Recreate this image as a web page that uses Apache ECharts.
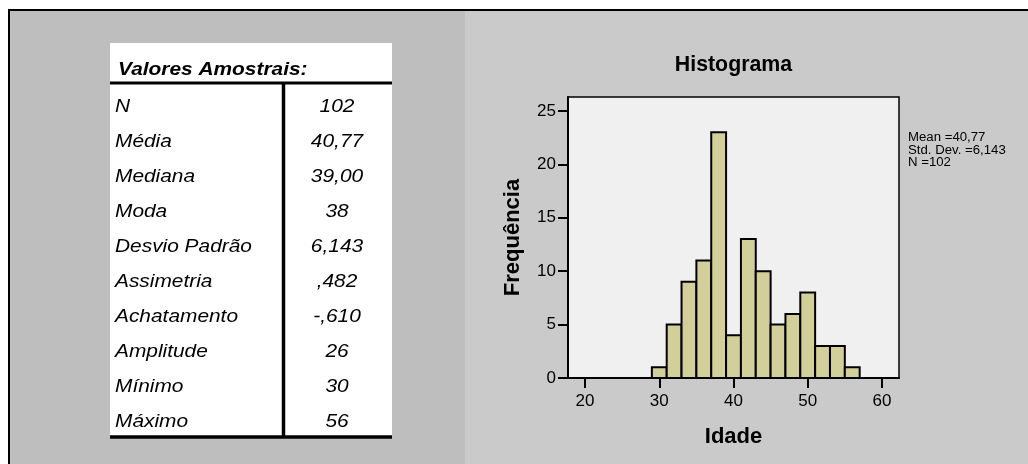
<!DOCTYPE html>
<html>
<head>
<meta charset="utf-8">
<script src="https://cdn.jsdelivr.net/npm/echarts@6/dist/echarts.min.js"></script>
<style>html,body{margin:0;padding:0;background:#fff}#c{width:1028px;height:464px}</style>
</head>
<body>
<div id="c"></div>
<script>
// ---- data ----
const binCenters = [30, 32, 34, 36, 38, 40, 42, 44, 46, 48, 50, 52, 54, 56];
const counts = [1, 5, 9, 11, 23, 4, 13, 10, 5, 6, 8, 3, 3, 1];
const binWidth = 2;
const xTicks = [20, 30, 40, 50, 60];
const yTicks = [0, 5, 10, 15, 20, 25];
const tableTitle = 'Valores Amostrais:';
const tableLabels = ['N', 'Média', 'Mediana', 'Moda', 'Desvio Padrão', 'Assimetria', 'Achatamento', 'Amplitude', 'Mínimo', 'Máximo'];
const tableValues = ['102', '40,77', '39,00', '38', '6,143', ',482', '-,610', '26', '30', '56'];
const statsLines = ['Mean =40,77', 'Std. Dev. =6,143', 'N =102'];
const chartTitle = 'Histograma';
const xName = 'Idade';
const yName = 'Frequência';

const chart = echarts.init(document.getElementById('c'), null, {renderer: 'canvas'});
const FONT = 'Liberation Sans, Arial, sans-serif';

const graphics = [
  // outer frame and panels
  {type: 'rect', z: -10, shape: {x: 9, y: 10, width: 1030, height: 470}, style: {fill: '#bebebe', stroke: '#000', lineWidth: 2}},
  {type: 'rect', z: -9, shape: {x: 465, y: 11, width: 570, height: 460}, style: {fill: '#cacaca'}},
  // table box
  {type: 'rect', z: -5, shape: {x: 110, y: 43, width: 282, height: 394}, style: {fill: '#ffffff'}},
  {type: 'line', shape: {x1: 110, y1: 83, x2: 392, y2: 83}, style: {stroke: '#000', lineWidth: 3}},
  {type: 'line', shape: {x1: 283.5, y1: 83, x2: 283.5, y2: 438}, style: {stroke: '#000', lineWidth: 3.5}},
  {type: 'line', shape: {x1: 110, y1: 437, x2: 392, y2: 437}, style: {stroke: '#000', lineWidth: 3.5}},
  {type: 'text', x: 118, y: 70, scaleX: 1.16, style: {text: tableTitle, fill: '#000', font: 'italic bold 18px ' + FONT, textAlign: 'left', textVerticalAlign: 'middle'}},
  // title
  {type: 'text', x: 733.5, y: 65, scaleX: 0.97, style: {text: chartTitle, fill: '#000', font: 'bold 22px ' + FONT, textAlign: 'center', textVerticalAlign: 'middle'}},
  // stats box text
  {type: 'text', x: 908, y: 132, scaleX: 1.1, style: {text: statsLines.join('\n'), fill: '#000', font: '12px ' + FONT, lineHeight: 12.3, textAlign: 'left', textVerticalAlign: 'top'}}
];
tableLabels.forEach((lab, i) => {
  const y = 107 + 35 * i;
  graphics.push({type: 'text', x: 115, y: y, scaleX: 1.16, style: {text: lab, fill: '#000', font: 'italic 18px ' + FONT, textAlign: 'left', textVerticalAlign: 'middle'}});
  graphics.push({type: 'text', x: 337, y: y, scaleX: 1.16, style: {text: tableValues[i], fill: '#000', font: 'italic 18px ' + FONT, textAlign: 'center', textVerticalAlign: 'middle'}});
});

const option = {
  animation: false,
  backgroundColor: '#ffffff',
  graphic: graphics,
  grid: {left: 568, top: 97, right: 129, bottom: 86, show: true, backgroundColor: '#f0f0f0', borderColor: '#000', borderWidth: 1.5, containLabel: false},
  xAxis: {
    type: 'value', min: 17.7, max: 62.3,
    name: xName, nameLocation: 'middle', nameGap: 48,
    nameTextStyle: {fontFamily: FONT, fontWeight: 'bold', fontSize: 22, color: '#000'},
    axisLine: {show: true, lineStyle: {color: '#000', width: 2}},
    axisTick: {show: true, inside: false, length: 10, lineStyle: {color: '#000', width: 2}, customValues: xTicks},
    axisLabel: {color: '#000', fontFamily: FONT, fontSize: 17, margin: 15, customValues: xTicks},
    splitLine: {show: false}
  },
  yAxis: {
    type: 'value', min: 0, max: 26.3,
    name: yName, nameLocation: 'middle', nameGap: 44,
    nameTextStyle: {fontFamily: FONT, fontWeight: 'bold', fontSize: 22, color: '#000'},
    axisLine: {show: true, lineStyle: {color: '#000', width: 2}},
    axisTick: {show: true, inside: false, length: 10, lineStyle: {color: '#000', width: 2}, customValues: yTicks},
    axisLabel: {color: '#000', fontFamily: FONT, fontSize: 17, margin: 12, customValues: yTicks},
    splitLine: {show: false}
  },
  series: [{
    type: 'custom',
    data: binCenters.map((c, i) => [c, counts[i]]),
    renderItem: function (params, api) {
      const c = api.value(0), v = api.value(1);
      const p0 = api.coord([c - binWidth / 2, v]);
      const p1 = api.coord([c + binWidth / 2, 0]);
      return {type: 'rect', shape: {x: p0[0], y: p0[1], width: p1[0] - p0[0], height: p1[1] - p0[1]},
        style: {fill: '#d3cf9b', stroke: '#000', lineWidth: 2}};
    }
  }]
};
chart.setOption(option);
</script>
</body>
</html>
